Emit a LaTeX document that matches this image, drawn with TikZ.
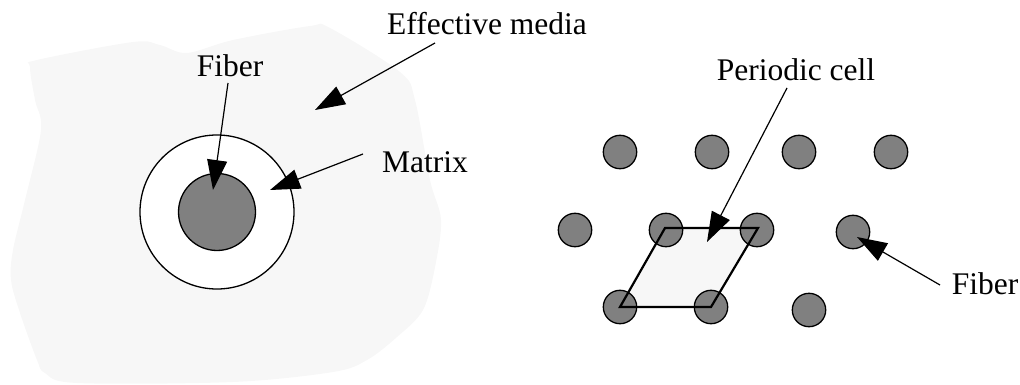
\documentclass[tikz,border=0pt]{standalone}
\usepackage{fontspec}
\setmainfont{Liberation Serif}
\usetikzlibrary{arrows.meta}
\definecolor{blobgray}{HTML}{F7F7F7}
\definecolor{fibgray}{HTML}{808080}
\tikzset{
  lbl/.style={inner sep=0pt, font=\fontsize{31.5}{36}\selectfont},
  fib/.style={circle, draw=black, fill=fibgray, line width=1.3pt, minimum size=33.4pt, inner sep=0pt},
  ptr/.style={line width=1.2pt, -{Triangle[length=30pt,width=20pt]}},
}
\begin{document}
\begin{tikzpicture}[x=1pt,y=-1pt]
\useasboundingbox (0,0) rectangle (1020,385);
% effective medium blob
\fill[blobgray] plot[smooth cycle, tension=0.55] coordinates {
 (37,60) (133,42) (160,45) (187,53) (233,40) (310,26) (330,28) (400,72) (415,100)
 (430,180) (441,220) (435,267) (423,310) (397,337) (367,360) (333,372) (233,382)
 (77,383) (45,373) (37,360) (20,313) (11,280) (13,250) (25,200) (41,130) (35,100) (30,67)};
% matrix and fiber
\node[circle, draw=black, fill=white, line width=1.3pt, minimum size=154pt, inner sep=0pt] (matrix) at (217,212) {};
\node[circle, draw=black, fill=fibgray, line width=1.3pt, minimum size=77pt, inner sep=0pt] (fiber) at (217,212) {};
% labels left
\node[lbl] (lfib) at (230,66) {Fiber};
\node[lbl] (leff) at (487,24) {Effective media};
\node[lbl] (lmat) at (425,162) {Matrix};
\coordinate (tfib) at (213,190);
\coordinate (teff) at (315,110);
\coordinate (tmat) at (270,190);
\coordinate (sfib) at (228,83);
\coordinate (seff) at (435,43);
\coordinate (smat) at (363,154);
\draw[ptr] (sfib) -- (tfib);
\draw[ptr] (seff) -- (teff);
\draw[ptr] (smat) -- (tmat);
% periodic array
\coordinate (p1) at (665,228);
\coordinate (p2) at (758,228);
\coordinate (p3) at (711,307);
\coordinate (p4) at (620,307);
\fill[blobgray] (p1) -- (p2) -- (p3) -- (p4) -- cycle;
\node[fib] (a1) at (620,152) {};
\node[fib] (a2) at (712,152) {};
\node[fib] (a3) at (799,152) {};
\node[fib] (a4) at (891,152) {};
\node[fib] (b1) at (575,230) {};
\node[fib] (b2) at (666,230) {};
\node[fib] (b3) at (757,230) {};
\node[fib] (b4) at (853,232) {};
\node[fib] (c1) at (620,307) {};
\node[fib] (c2) at (711,307) {};
\node[fib] (c3) at (809,310) {};
\draw[line width=2.2pt, line join=miter] (p1) -- (p2) -- (p3) -- (p4) -- cycle;
% labels right
\node[lbl] (lcell) at (796,70) {Periodic cell};
\node[lbl] (lfib2) at (985,284) {Fiber};
\coordinate (scell) at (787,88);
\coordinate (tcell) at (707,242);
\coordinate (sfib2) at (940,285);
\coordinate (tfib2) at (857,237);
\draw[ptr] (scell) -- (tcell);
\draw[ptr] (sfib2) -- (tfib2);
\end{tikzpicture}
\end{document}
